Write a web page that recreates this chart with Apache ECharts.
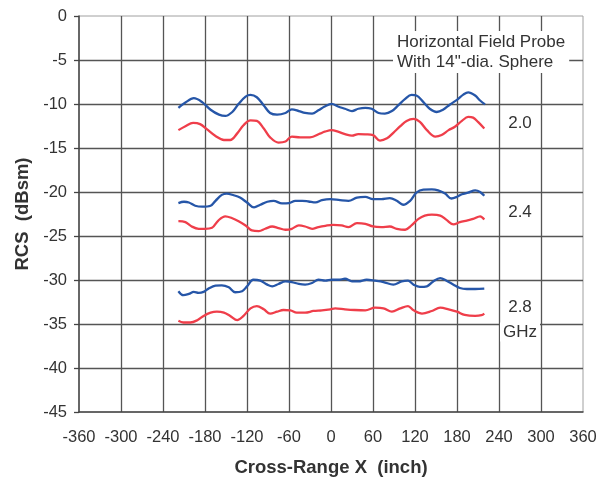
<!DOCTYPE html>
<html>
<head>
<meta charset="utf-8">
<script src="https://cdn.jsdelivr.net/npm/echarts@6/dist/echarts.min.js"></script>
<style>
  html, body { margin: 0; padding: 0; background: #fff; }
  #chart { width: 603px; height: 482px; }
</style>
</head>
<body>
<div id="chart"></div>
<script>
// Cross-range scans of a 14"-dia. sphere, horizontal field probe (RCS in dBsm)
const xTicks = [-360, -300, -240, -180, -120, -60, 0, 60, 120, 180, 240, 300, 360];
const yTicks = [0, -5, -10, -15, -20, -25, -30, -35, -40, -45];

// 2.0 GHz
const x20Blue = [-218, -208, -196, -184, -172, -160, -151, -141, -132, -122, -115, -106, -96, -87, -77, -65, -56, -46, -37, -27, -18, -9, 1, 10, 20, 30, 39, 49, 58, 68, 77, 87, 96, 106, 115, 122, 132, 141, 151, 160, 170, 180, 189, 196, 206, 213, 220];
const y20Blue = [-10.43, -9.83, -9.34, -9.79, -10.65, -11.21, -11.36, -10.91, -9.98, -9.16, -8.97, -9.23, -10.16, -11.02, -11.21, -11.02, -10.61, -10.8, -11.02, -11.1, -10.72, -10.28, -9.98, -10.28, -10.54, -10.8, -10.54, -10.43, -10.54, -11.02, -11.1, -10.8, -10.16, -9.42, -8.97, -9.04, -9.79, -10.54, -10.91, -10.65, -10.05, -9.53, -8.93, -8.67, -9.04, -9.6, -10.05];
const x20Red = [-218, -208, -197, -187, -177, -165, -153, -144, -134, -125, -115, -106, -96, -87, -75, -65, -56, -44, -30, -15, -9, 1, 10, 20, 30, 39, 49, 60, 70, 80, 89, 99, 108, 118, 127, 137, 149, 158, 168, 177, 187, 196, 203, 210, 219];
const y20Red = [-12.97, -12.52, -12.15, -12.29, -12.89, -13.64, -14.09, -14.09, -13.34, -12.41, -11.85, -11.92, -12.78, -13.79, -14.39, -14.27, -13.71, -13.79, -13.79, -13.34, -13.15, -12.97, -13.15, -13.42, -13.6, -13.42, -13.45, -13.53, -14.16, -13.9, -13.27, -12.52, -11.92, -11.7, -12.03, -12.97, -13.71, -13.53, -12.97, -12.59, -11.92, -11.47, -11.55, -12.03, -12.78];

// 2.4 GHz
const x24Blue = [-218, -210, -203, -194, -184, -172, -165, -156, -149, -139, -130, -120, -110, -101, -91, -82, -70, -60, -51, -41, -32, -22, -13, -1, 13, 25, 37, 49, 60, 72, 84, 94, 103, 113, 122, 132, 144, 153, 163, 172, 180, 187, 196, 206, 213, 219];
const y24Blue = [-21.26, -21.11, -21.19, -21.56, -21.67, -21.56, -21.0, -20.33, -20.18, -20.37, -20.63, -21.19, -21.75, -21.45, -21.11, -21.0, -21.3, -21.26, -21.0, -21.0, -21.08, -21.19, -20.93, -20.81, -20.93, -21.0, -20.63, -20.55, -20.81, -20.81, -20.7, -21.0, -21.45, -21.0, -20.07, -19.73, -19.7, -19.81, -20.18, -20.74, -20.55, -20.26, -20.07, -19.81, -19.99, -20.44];
const x24Red = [-218, -208, -199, -189, -180, -170, -161, -151, -141, -132, -122, -113, -103, -94, -84, -75, -65, -56, -46, -37, -27, -18, -8, 3, 15, 25, 37, 49, 60, 72, 84, 94, 106, 115, 125, 134, 144, 156, 165, 175, 184, 194, 203, 213, 219];
const y24Red = [-23.32, -23.43, -23.92, -24.18, -24.18, -24.07, -23.24, -22.76, -22.98, -23.32, -23.8, -24.36, -24.44, -24.18, -23.92, -24.1, -24.29, -24.18, -23.8, -23.92, -24.18, -23.99, -23.84, -23.73, -23.8, -23.99, -23.54, -23.62, -23.92, -23.99, -23.92, -24.18, -24.29, -23.8, -23.06, -22.68, -22.57, -22.68, -23.17, -23.69, -23.43, -23.24, -23.06, -22.76, -23.13];

// 2.8 GHz
const x28Blue = [-218, -211, -203, -196, -189, -182, -175, -165, -156, -146, -137, -127, -120, -111, -101, -91, -84, -75, -65, -56, -46, -37, -27, -18, -8, 1, 11, 20, 30, 39, 51, 63, 75, 89, 101, 110, 118, 127, 137, 146, 156, 165, 175, 184, 194, 206, 219];
const y28Blue = [-31.28, -31.73, -31.58, -31.35, -31.47, -31.35, -30.98, -30.64, -30.6, -30.83, -31.39, -31.28, -30.72, -29.97, -30.08, -30.53, -30.72, -30.45, -30.16, -30.23, -30.45, -30.53, -30.34, -29.97, -30.08, -29.97, -29.97, -29.86, -30.16, -30.16, -29.97, -30.08, -30.23, -30.53, -30.16, -30.08, -30.53, -30.79, -30.72, -30.16, -29.78, -30.08, -30.53, -30.91, -31.02, -31.02, -30.98];
const x28Red = [-218, -211, -201, -191, -182, -172, -163, -153, -144, -134, -125, -115, -106, -96, -87, -77, -68, -58, -49, -37, -25, -13, -1, 6, 20, 34, 49, 63, 75, 87, 99, 110, 118, 130, 144, 156, 168, 180, 191, 206, 215, 219];
const y28Red = [-34.64, -34.83, -34.83, -34.57, -34.08, -33.71, -33.6, -33.71, -34.08, -34.57, -34.08, -33.22, -32.96, -33.33, -33.82, -33.6, -33.41, -33.45, -33.71, -33.71, -33.52, -33.45, -33.33, -33.22, -33.33, -33.41, -33.45, -33.15, -33.22, -33.6, -33.22, -32.96, -33.45, -33.82, -33.52, -33.15, -33.33, -33.6, -33.97, -34.08, -34.0, -33.82];

const freqLabels = ['2.0', '2.4', '2.8', 'GHz'];
const noteLines = ['Horizontal Field Probe', 'With 14"-dia. Sphere'];

const FONT = '"Liberation Sans", Arial, sans-serif';
const BLUE = '#2656a8';
const RED = '#ef3e4a';

function pairs(xs, ys) {
  return xs.map((x, i) => [x, ys[i]]);
}

function curve(name, xs, ys, color) {
  return {
    name: name,
    type: 'line',
    data: pairs(xs, ys),
    showSymbol: false,
    smooth: 0.35,
    lineStyle: { color: color, width: 2.3 },
    itemStyle: { color: color },
    z: 3
  };
}

const chart = echarts.init(document.getElementById('chart'), null, { renderer: 'canvas' });

const freqLabel = (text, y) => ({
  type: 'text',
  x: 520,
  y: y,
  z: 10,
  style: {
    text: text,
    font: '17px ' + FONT,
    fill: '#333',
    align: 'center',
    verticalAlign: 'middle',
    backgroundColor: '#fff',
    padding: [1, 3]
  }
});

chart.setOption({
  backgroundColor: '#fff',
  animation: false,
  grid: {
    left: 79, top: 16, right: 20, bottom: 65,
    show: true, borderColor: '#a0a0a0', borderWidth: 1
  },
  xAxis: {
    type: 'value',
    min: xTicks[0], max: xTicks[xTicks.length - 1], interval: 60,
    name: 'Cross-Range X  (inch)',
    nameLocation: 'middle',
    nameGap: 46,
    nameTextStyle: { fontFamily: FONT, fontSize: 18.5, fontWeight: 'bold', color: '#333' },
    axisLine: { show: true, onZero: false, lineStyle: { color: '#444', width: 1.5 } },
    axisTick: { show: false },
    axisLabel: { margin: 17, fontFamily: FONT, fontSize: 16.5, color: '#333' },
    splitLine: { show: true, showMinLine: false, showMaxLine: false, lineStyle: { color: '#555', width: 1.3 } }
  },
  yAxis: {
    type: 'value',
    min: yTicks[yTicks.length - 1], max: yTicks[0], interval: 5,
    name: 'RCS  (dBsm)',
    nameLocation: 'middle',
    nameGap: 46,
    nameTextStyle: { fontFamily: FONT, fontSize: 18.5, fontWeight: 'bold', color: '#333' },
    axisLine: { show: true, onZero: false, lineStyle: { color: '#444', width: 1.5 } },
    axisTick: { show: true, inside: false, length: 5, lineStyle: { color: '#444', width: 1.3 } },
    axisLabel: { margin: 12, fontFamily: FONT, fontSize: 16.5, color: '#333' },
    splitLine: { show: true, showMinLine: false, showMaxLine: false, lineStyle: { color: '#555', width: 1.3 } }
  },
  graphic: [
    {
      type: 'text',
      x: 393,
      y: 31,
      z: 10,
      style: {
        text: noteLines.join('\n'),
        font: '17px ' + FONT,
        fill: '#333',
        lineHeight: 20,
        align: 'left',
        verticalAlign: 'top',
        backgroundColor: '#fff',
        padding: [1, 4]
      }
    },
    freqLabel(freqLabels[0], 123),
    freqLabel(freqLabels[1], 212),
    freqLabel(freqLabels[2], 307),
    freqLabel(freqLabels[3], 332)
  ],
  series: [
    curve('2.0 GHz A', x20Blue, y20Blue, BLUE),
    curve('2.0 GHz B', x20Red, y20Red, RED),
    curve('2.4 GHz A', x24Blue, y24Blue, BLUE),
    curve('2.4 GHz B', x24Red, y24Red, RED),
    curve('2.8 GHz A', x28Blue, y28Blue, BLUE),
    curve('2.8 GHz B', x28Red, y28Red, RED)
  ]
});
</script>
</body>
</html>
